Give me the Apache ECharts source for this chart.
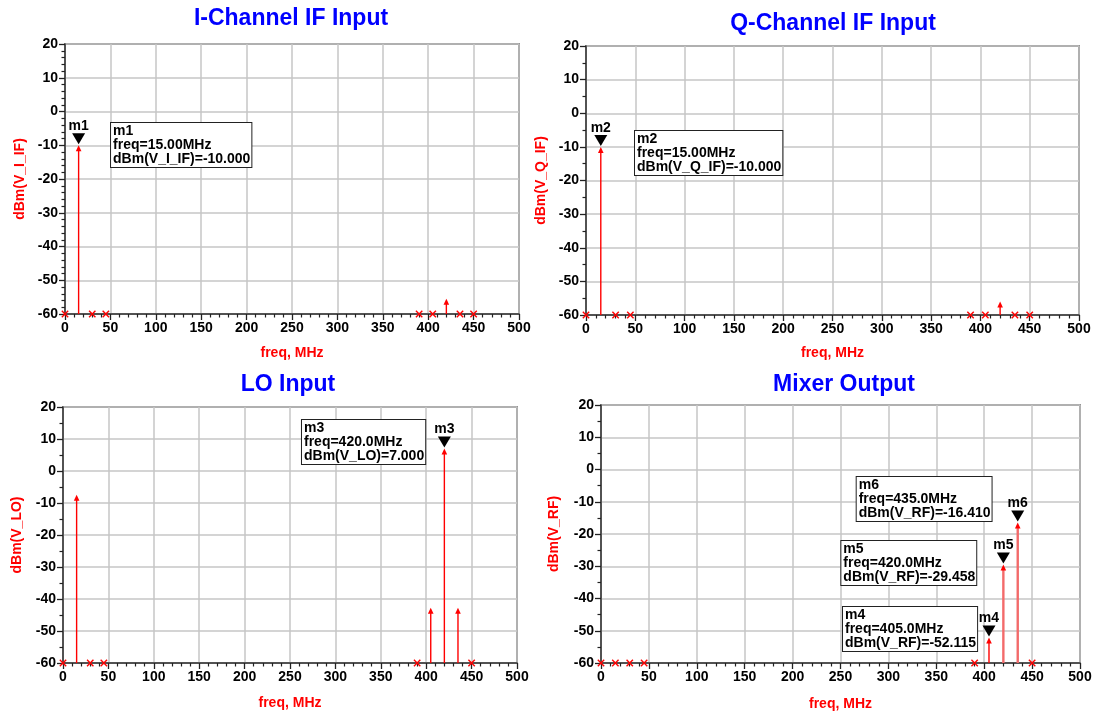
<!DOCTYPE html>
<html>
<head>
<meta charset="utf-8">
<title>Mixer spectra</title>
<script src="https://cdn.jsdelivr.net/npm/echarts@6/dist/echarts.min.js"></script>
<style>
  html, body { margin: 0; padding: 0; background: #ffffff; }
  #chart { width: 1095px; height: 712px; }
</style>
</head>
<body>
<div id="chart"></div>
<script>
// Spectral lines (dBm) at each port; null means the tone lies below the -60 dBm floor
const freqMHz = [0, 15, 30, 45, 390, 405, 420, 435, 450];
const dBmIIF  = [null, -10, null, null, null, null, -55.5, null, null];
const dBmQIF  = [null, -10, null, null, null, null, -56, null, null];
const dBmLO   = [null, -7.4, null, null, null, -42.7, 7, -42.7, null];
const dBmRF   = [null, null, null, null, null, -52.115, -29.458, -16.41, null];

// Markers placed on the traces
const markersI  = [{ name: 'm1', freq: 15 }];
const markersQ  = [{ name: 'm2', freq: 15 }];
const markersLO = [{ name: 'm3', freq: 420 }];
const markersRF = [{ name: 'm4', freq: 405 }, { name: 'm5', freq: 420 }, { name: 'm6', freq: 435 }];

// Axis ranges: [min, max, step]
const freqAxis = [0, 500, 50];
const dBmAxis  = [-60, 20, 10];

const FONT = '"Liberation Sans", Arial, sans-serif';
const RED = '#ff0000';

const panels = [
  { title: 'I-Channel IF Input', tx: 291, ty: 19, signal: 'V_I_IF', values: dBmIIF, markers: markersI,
    grid: { left: 65, top: 44, width: 454, height: 270 }, yMinor: 5, yNameGap: 38, xNameGap: 32,
    boxes: { m1: [50.7, -3.4] }, wide: [] },
  { title: 'Q-Channel IF Input', tx: 833, ty: 24, signal: 'V_Q_IF', values: dBmQIF, markers: markersQ,
    grid: { left: 586, top: 46, width: 493, height: 269 }, yMinor: 2, yNameGap: 38, xNameGap: 31,
    boxes: { m2: [49.7, -5.3] }, wide: [] },
  { title: 'LO Input', tx: 288, ty: 385, signal: 'V_LO', values: dBmLO, markers: markersLO,
    grid: { left: 63, top: 407, width: 454, height: 256 }, yMinor: 2, yNameGap: 39, xNameGap: 33,
    boxes: { m3: [263.2, 15.9] }, wide: [] },
  { title: 'Mixer Output', tx: 844, ty: 385, signal: 'V_RF', values: dBmRF, markers: markersRF,
    grid: { left: 601, top: 405, width: 479, height: 259 }, yMinor: 2, yNameGap: 40, xNameGap: 34,
    boxes: { m4: [252.6, -42.6], m5: [250.9, -22.2], m6: [266.9, -2.3] }, wide: [420, 435] }
];

function valueAt(values, f) {
  return values[freqMHz.indexOf(f)];
}

function stemItem(panel) {
  return function (params, api) {
    const f = api.value(0), v = api.value(1), off = api.value(2);
    const base = api.coord([f, dBmAxis[0]]);
    if (off) {
      const s = 3.2;
      return { type: 'group', children: [
        { type: 'line', shape: { x1: base[0] - s, y1: base[1] - s, x2: base[0] + s, y2: base[1] + s },
          style: { stroke: RED, lineWidth: 1.4 } },
        { type: 'line', shape: { x1: base[0] - s, y1: base[1] + s, x2: base[0] + s, y2: base[1] - s },
          style: { stroke: RED, lineWidth: 1.4 } }
      ] };
    }
    const top = api.coord([f, v]);
    const wide = panel.wide.indexOf(f) >= 0;
    return { type: 'group', children: [
      { type: 'line', shape: { x1: base[0], y1: base[1], x2: top[0], y2: top[1] + 3 },
        style: { stroke: wide ? '#f36a6a' : RED, lineWidth: wide ? 2.4 : 1.4 } },
      { type: 'polygon', shape: { points: [[top[0], top[1]], [top[0] - 2.8, top[1] + 6], [top[0] + 2.8, top[1] + 6]] },
        style: { fill: RED } }
    ] };
  };
}

function markerItem(panel) {
  return function (params, api) {
    const p = api.coord([api.value(0), api.value(1)]);
    const tip = p[1] - 1;
    return { type: 'group', children: [
      { type: 'polygon', shape: { points: [[p[0], tip], [p[0] - 6.5, tip - 11], [p[0] + 6.5, tip - 11]] },
        style: { fill: '#000' } },
      { type: 'text', x: p[0], y: tip - 11,
        style: { text: panel.markers[params.dataIndex].name, align: 'center', verticalAlign: 'bottom',
                 font: 'bold 14px ' + FONT, fill: '#000' } }
    ] };
  };
}

function boxItem(panel) {
  return function (params, api) {
    const m = panel.markers[params.dataIndex];
    const v = valueAt(panel.values, m.freq);
    const p = api.coord([api.value(0), api.value(1)]);
    const text = m.name + '\nfreq=' + m.freq.toPrecision(4) + 'MHz\ndBm(' + panel.signal + ')=' + v.toFixed(3);
    return { type: 'text', x: p[0], y: p[1],
      style: { text: text, align: 'left', verticalAlign: 'top', font: 'bold 14px ' + FONT, fill: '#000',
               lineHeight: 14, backgroundColor: '#ffffff', borderColor: '#222', borderWidth: 1,
               padding: [1, 1, 1, 2] } };
  };
}

const option = {
  animation: false,
  backgroundColor: '#ffffff',
  grid: [], xAxis: [], yAxis: [], series: [], graphic: []
};

panels.forEach(function (panel, i) {
  option.grid.push(Object.assign({ show: true, borderColor: '#444', borderWidth: 1.5,
    backgroundColor: '#ffffff', containLabel: false }, panel.grid));

  option.xAxis.push({
    type: 'value', gridIndex: i, min: freqAxis[0], max: freqAxis[1], interval: freqAxis[2],
    name: 'freq, MHz', nameLocation: 'middle', nameGap: panel.xNameGap, nameMoveOverlap: false,
    nameTextStyle: { color: RED, fontWeight: 'bold', fontSize: 14, fontFamily: FONT },
    axisLine: { show: true, onZero: false, lineStyle: { color: '#333', width: 1.5 } },
    axisTick: { show: true, length: 6, lineStyle: { color: '#222', width: 1.3 } },
    minorTick: { show: true, splitNumber: 5, length: 3.5, lineStyle: { color: '#222', width: 1.2 } },
    axisLabel: { color: '#000', fontWeight: 'bold', fontSize: 14, fontFamily: FONT, margin: 7 },
    splitLine: { show: true, lineStyle: { color: '#c6c6c6', width: 1.5 } }
  });

  option.yAxis.push({
    type: 'value', gridIndex: i, min: dBmAxis[0], max: dBmAxis[1], interval: dBmAxis[2],
    name: 'dBm(' + panel.signal + ')', nameLocation: 'middle', nameGap: panel.yNameGap, nameMoveOverlap: false,
    nameTextStyle: { color: RED, fontWeight: 'bold', fontSize: 14, fontFamily: FONT },
    axisLine: { show: true, onZero: false, lineStyle: { color: '#333', width: 1.5 } },
    axisTick: { show: true, length: 6, lineStyle: { color: '#222', width: 1.3 } },
    minorTick: { show: true, splitNumber: panel.yMinor, length: 3.5, lineStyle: { color: '#222', width: 1.2 } },
    axisLabel: { color: '#000', fontWeight: 'bold', fontSize: 14, fontFamily: FONT, margin: 7 },
    splitLine: { show: true, lineStyle: { color: '#c6c6c6', width: 1.5 } }
  });

  option.series.push({
    type: 'custom', xAxisIndex: i, yAxisIndex: i, clip: false, z: 3,
    renderItem: stemItem(panel),
    data: freqMHz.map(function (f, k) {
      const v = panel.values[k];
      return v === null ? [f, dBmAxis[0], 1] : [f, v, 0];
    })
  });

  option.series.push({
    type: 'custom', xAxisIndex: i, yAxisIndex: i, clip: false, z: 4,
    renderItem: markerItem(panel),
    data: panel.markers.map(function (m) { return [m.freq, valueAt(panel.values, m.freq)]; })
  });

  option.series.push({
    type: 'custom', xAxisIndex: i, yAxisIndex: i, clip: false, z: 5,
    renderItem: boxItem(panel),
    data: panel.markers.map(function (m) { return panel.boxes[m.name]; })
  });

  option.graphic.push({
    type: 'text', x: panel.tx, y: panel.ty, z: 10,
    style: { text: panel.title, align: 'center', verticalAlign: 'middle',
             font: 'bold 23px ' + FONT, fill: '#0000ff' }
  });
});

const chart = echarts.init(document.getElementById('chart'), null, { renderer: 'canvas' });
chart.setOption(option);
</script>
</body>
</html>
